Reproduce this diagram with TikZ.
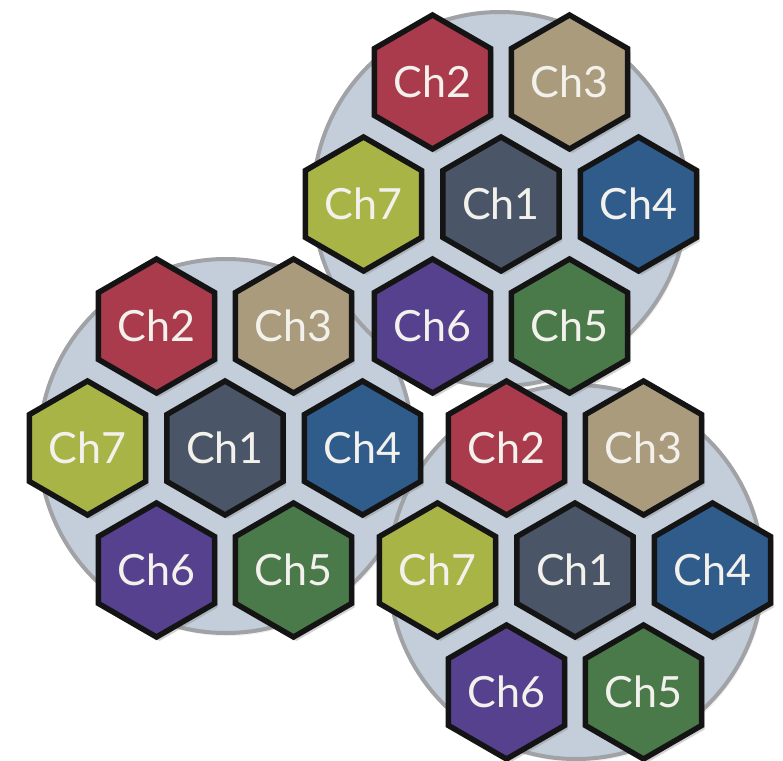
\documentclass[tikz,border=0pt]{standalone}
\usepackage{fontspec}
\setmainfont{Lato}
\usetikzlibrary{shapes.geometric,shadows}
\definecolor{cred}{HTML}{A93B4C}
\definecolor{ctan}{HTML}{A99B7B}
\definecolor{colive}{HTML}{A8B446}
\definecolor{cslate}{HTML}{4A5567}
\definecolor{cblue}{HTML}{305C8C}
\definecolor{cpurple}{HTML}{55418E}
\definecolor{cgreen}{HTML}{4B7A4A}
\definecolor{circfill}{HTML}{C3CEDA}
\definecolor{circline}{HTML}{A0A2A5}
\definecolor{labelcol}{HTML}{F3F1EC}
\newcommand{\hexcluster}[2]{%
  \begin{scope}[shift={(#2)}]
    \node[hexa=cred]    (#1-2) at (-68.5,-122) {Ch2};
    \node[hexa=ctan]    (#1-3) at (68.5,-122)  {Ch3};
    \node[hexa=colive]  (#1-7) at (-137.5,0)   {Ch7};
    \node[hexa=cslate]  (#1-1) at (0,0)        {Ch1};
    \node[hexa=cblue]   (#1-4) at (137.5,0)    {Ch4};
    \node[hexa=cpurple] (#1-6) at (-68.5,122)  {Ch6};
    \node[hexa=cgreen]  (#1-5) at (68.5,122)   {Ch5};
  \end{scope}}
\begin{document}
\begin{tikzpicture}[x=1pt,y=-1pt,
  hexa/.style={regular polygon, regular polygon sides=6, shape border rotate=30,
    minimum size=134pt, inner sep=0pt, fill=#1, draw=black!92, line width=5.5pt,
    line join=miter, text=labelcol, font=\fontsize{43}{43}\selectfont,
    drop shadow={shadow xshift=3pt, shadow yshift=-4pt, opacity=0.35}},
  cell/.style={circle, minimum size=374pt, inner sep=0pt, fill=circfill,
    draw=circline, line width=4pt,
    drop shadow={shadow xshift=2pt, shadow yshift=-3pt, opacity=0.12}}]
  \useasboundingbox (0,0) rectangle (783,760);
  % background circles
  \node[cell] (lc) at (226,446) {};
  \node[cell] (bc) at (576,572) {};
  \node[cell] (tc) at (500,199) {};
  % hexagon clusters
  \hexcluster{t}{501,204}
  \hexcluster{l}{225,448}
  \hexcluster{b}{575,570}
\end{tikzpicture}
\end{document}
